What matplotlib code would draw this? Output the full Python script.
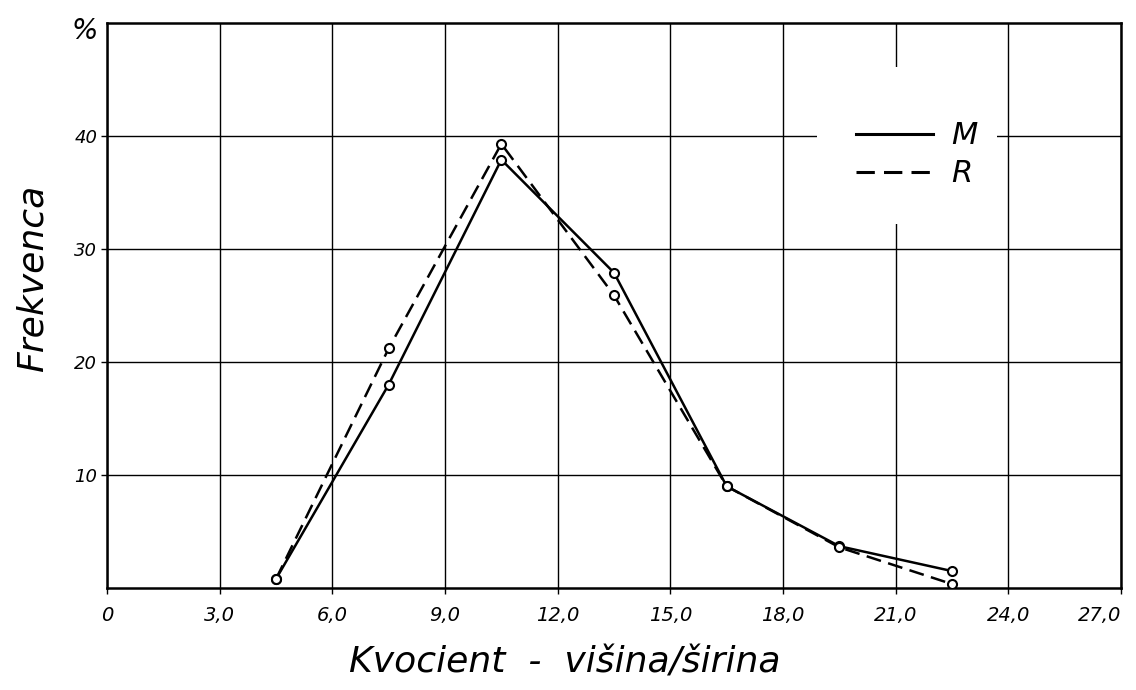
import matplotlib
matplotlib.use("Agg")
import matplotlib.pyplot as plt
from matplotlib.patches import Rectangle

# data
kvocient = [4.5, 7.5, 10.5, 13.5, 16.5, 19.5, 22.5]
freq_M = [0.8, 18.0, 37.9, 27.9, 9.0, 3.7, 1.5]
freq_R = [0.8, 21.2, 39.3, 25.9, 9.0, 3.6, 0.35]
x_ticks = [0, 3, 6, 9, 12, 15, 18, 21, 24, 27]
x_labels = ["0", "3,0", "6,0", "9,0", "12,0", "15,0", "18,0", "21,0", "24,0", "27,0"]
y_ticks = [10, 20, 30, 40]
y_labels = ["10", "20", "30", "40"]

plt.rcParams["font.family"] = "DejaVu Sans"
plt.rcParams["font.style"] = "oblique"

fig = plt.figure(figsize=(11.36, 6.9), dpi=100)
ax = fig.add_axes([0.0942, 0.1478, 0.8926, 0.8189])

ax.set_xlim(0, 27)
ax.set_ylim(0, 50)
ax.set_axisbelow(True)
ax.grid(True, color="black", linewidth=1.0)

# blank area behind the legend (grid is interrupted there)
ax.add_patch(Rectangle((18.9, 32.2), 4.8, 13.9, facecolor="white",
                       edgecolor="none", zorder=1))

ax.plot(kvocient, freq_M, color="black", linewidth=1.8, marker="o",
        markersize=6.5, markerfacecolor="white", markeredgewidth=1.5,
        label="M", zorder=3)
ax.plot(kvocient, freq_R, color="black", linewidth=1.8, dashes=(6, 3),
        marker="o", markersize=6.5, markerfacecolor="white",
        markeredgewidth=1.5, label="R", zorder=3)

ax.set_xticks(x_ticks)
ax.set_xticklabels(x_labels, fontsize=14)
ax.set_yticks(y_ticks)
ax.set_yticklabels(y_labels, fontsize=13)
ax.tick_params(axis="x", length=4, width=1, pad=9)
ax.tick_params(axis="y", length=4, width=1, pad=3)
ax.get_xticklabels()[-1].set_horizontalalignment("right")
ax.get_xticklabels()[-1].set_x(27.6)

for s in ax.spines.values():
    s.set_linewidth(1.8)

ax.text(-0.6, 49.3, "%", fontsize=20, ha="center", va="center")

leg = ax.legend(loc="upper left", bbox_to_anchor=(0.724, 0.853), frameon=False,
                fontsize=22, handlelength=2.5, handletextpad=0.6,
                labelspacing=0.3, borderpad=0, markerscale=0)
for h in leg.legend_handles:
    h.set_marker("")
    h.set_linewidth(2.2)

fig.text(0.497, 0.04, "Kvocient  -  višina/širina", fontsize=26,
         ha="center", va="center")
fig.text(0.029, 0.597, "Frekvenca", fontsize=26, rotation=90,
         ha="center", va="center")

fig.savefig("out.png", dpi=100)
